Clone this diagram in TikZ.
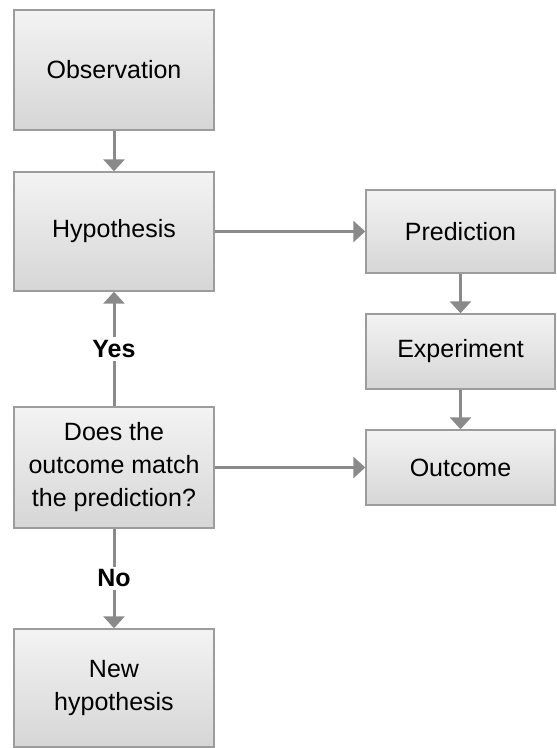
\documentclass[tikz,border=0pt]{standalone}
\usepackage{fontspec}
\setmainfont{Liberation Sans}
\usetikzlibrary{arrows.meta}
\definecolor{boxline}{HTML}{9C9C9C}
\definecolor{boxtop}{HTML}{F3F3F3}
\definecolor{boxbottom}{HTML}{D6D6D6}
\definecolor{linkgray}{HTML}{8A8A8A}
\tikzset{
  stepbox/.style={draw=boxline, line width=1.4pt, top color=boxtop, bottom color=boxbottom,
    rectangle, align=center, inner sep=0pt, font=\fontsize{25}{33}\selectfont},
  link/.style={draw=linkgray, line width=3pt, -{Triangle[width=21pt,length=12pt]}},
  tag/.style={fill=white, inner sep=3pt, font=\fontsize{25}{28}\selectfont\bfseries}
}
\begin{document}
\begin{tikzpicture}[x=1pt,y=-1pt]
  \useasboundingbox (0,0) rectangle (557,748);
  % left column
  \node[stepbox, minimum width=200pt, minimum height=120pt] (obs) at (114,70) {Observation};
  \node[stepbox, minimum width=200pt, minimum height=119pt] (hyp) at (114,231.5) {Hypothesis};
  \node[stepbox, minimum width=200pt, minimum height=121pt] (dec) at (114,467.5) {Does the\\outcome match\\the prediction?};
  \node[stepbox, minimum width=200pt, minimum height=118pt] (new) at (114,688) {New\\hypothesis};
  % right column
  \node[stepbox, minimum width=189pt, minimum height=83pt] (pre) at (460.5,231.5) {Prediction};
  \node[stepbox, minimum width=189pt, minimum height=75pt] (exp) at (460.5,351.5) {Experiment};
  \node[stepbox, minimum width=189pt, minimum height=75pt] (out) at (460.5,467.5) {Outcome};
  % connectors
  \draw[link] (obs.south) -- (hyp.north);
  \draw[link] (hyp.east) -- (pre.west);
  \draw[link] (pre.south) -- (exp.north);
  \draw[link] (exp.south) -- (out.north);
  \draw[link] (dec.east) -- (out.west);
  \draw[link] (dec.north) -- node[tag] (yes) {Yes} (hyp.south);
  \draw[link] (dec.south) -- node[tag] (no) {No} (new.north);
\end{tikzpicture}
\end{document}
